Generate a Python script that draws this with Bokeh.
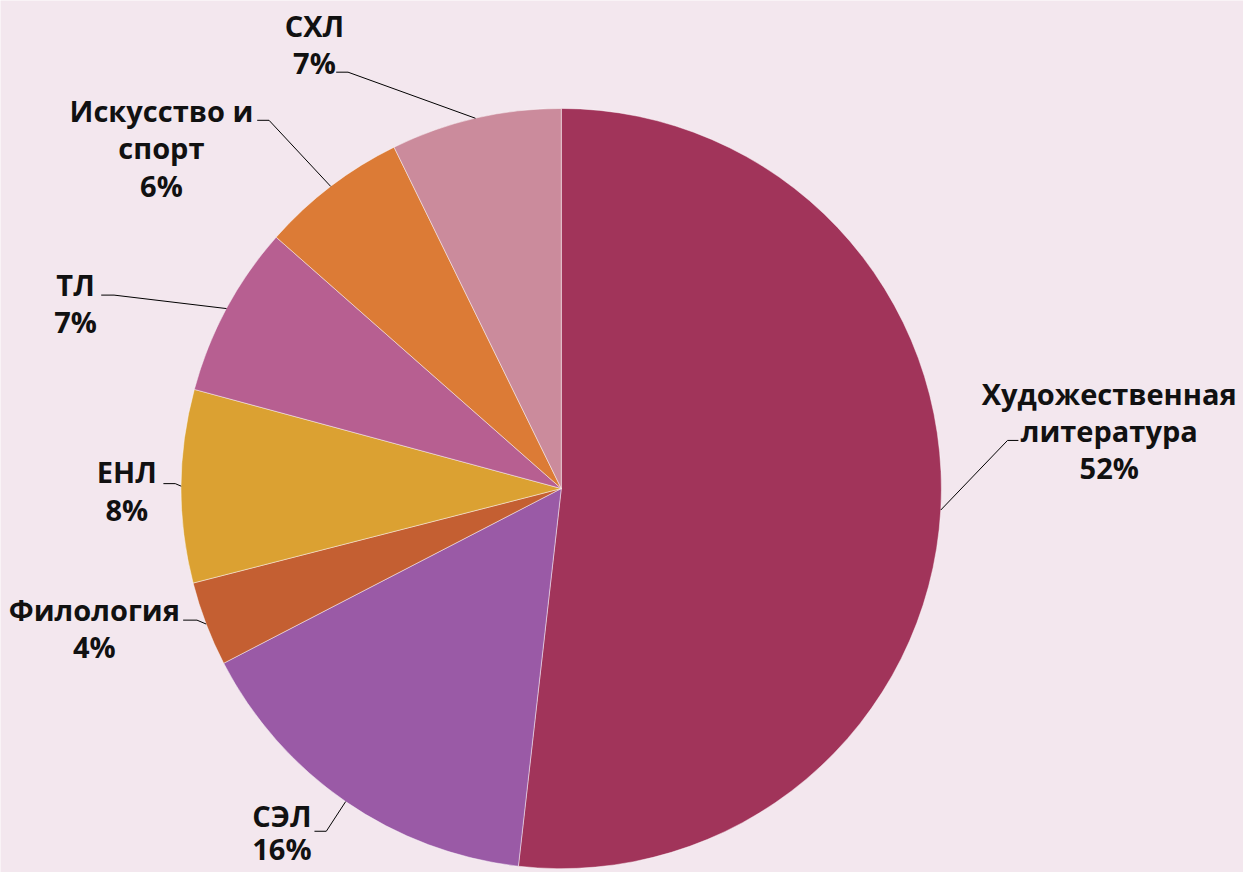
import math
from bokeh.plotting import figure
from bokeh.models import Range1d, ColumnDataSource
from bokeh.core.properties import value
from bokeh.embed import file_html
from bokeh.resources import INLINE

# ---- data ----
categories = ["Художественная литература", "СЭЛ", "Филология", "ЕНЛ", "ТЛ", "Искусство и спорт", "СХЛ"]
shares = [51.8, 15.6, 3.6, 8.2, 7.3, 6.25, 7.25]
colors = ["#A1345A", "#9A5AA6", "#C45F32", "#DBA132", "#B75F91", "#DC7B36", "#CB8B9C"]
label_lines = [
    ["Художественная", "литература"],
    ["СЭЛ"],
    ["Филология"],
    ["ЕНЛ"],
    ["ТЛ"],
    ["Искусство и", "спорт"],
    ["СХЛ"],
]

# ---- layout (reference pixel space 1259x888) ----
W, H = 1243, 872
RW, RH = 1259, 888
kx, ky = W / RW, H / RH
BG = "#F3E7EE"
cx, cy, R = 568, 497, 385
# label block: center x, first line center y
label_pos = [(1123, 400), (285, 830), (95, 620), (128, 480), (76, 289), (163, 112), (318, 25)]
# leader: horizontal segment start x, elbow x, y
leader = [(1031, 1020, 448), (318, 330, 846), (185, 199, 631), (165, 177, 492),
          (102, 115, 300), (260, 272, 122), (340, 352, 73)]
LINE_H = 38
LINE_H_SEL = 34

def sy(y):
    return RH - y

p = figure(width=W, height=H, x_range=Range1d(0, RW), y_range=Range1d(0, RH),
           output_backend="svg", toolbar_location=None, min_border=0,
           background_fill_color=BG, border_fill_color=BG, outline_line_color=None)
p.axis.visible = False
p.grid.visible = False

total = sum(shares)
starts, ends, mids = [], [], []
cum = 0.0
for s in shares:
    a0 = math.pi / 2 - 2 * math.pi * cum / total
    cum += s
    a1 = math.pi / 2 - 2 * math.pi * cum / total
    starts.append(a0)
    ends.append(a1)
    mids.append((a0 + a1) / 2)

src = ColumnDataSource(dict(x=[cx] * len(shares), y=[sy(cy)] * len(shares),
                            start=starts, end=ends, color=colors))
p.wedge(x="x", y="y", radius=R, start_angle="start", end_angle="end", direction="clock",
        fill_color="color", line_color="#FFFFFF", line_alpha=0.45, line_width=1, source=src)

# leader lines
for i, m in enumerate(mids):
    ex = cx + R * math.cos(m)
    ey = sy(cy) + R * math.sin(m) * kx / ky
    x0, x1, ly = leader[i]
    p.line([x0, x1, ex], [sy(ly), sy(ly), ey], line_color="#000000", line_width=1)

# labels
tx, ty, tt = [], [], []
for i, lines in enumerate(label_lines):
    lx, ly = label_pos[i]
    pct = f"{round(shares[i] / total * 100)}%"
    lh = LINE_H_SEL if i == 1 else LINE_H
    for j, t in enumerate(lines + [pct]):
        tx.append(lx)
        ty.append(sy(ly + j * lh))
        tt.append(t)
p.text(x=tx, y=ty, text=tt, text_align="center", text_baseline="middle",
       text_font=value("Open Sans"), text_font_style="bold", text_font_size="29px",
       text_color="#111111")

html = file_html(p, INLINE)
html = html.replace("<body>", f'<body style="background:{BG}">', 1)
open("out.html", "w").write(html)
